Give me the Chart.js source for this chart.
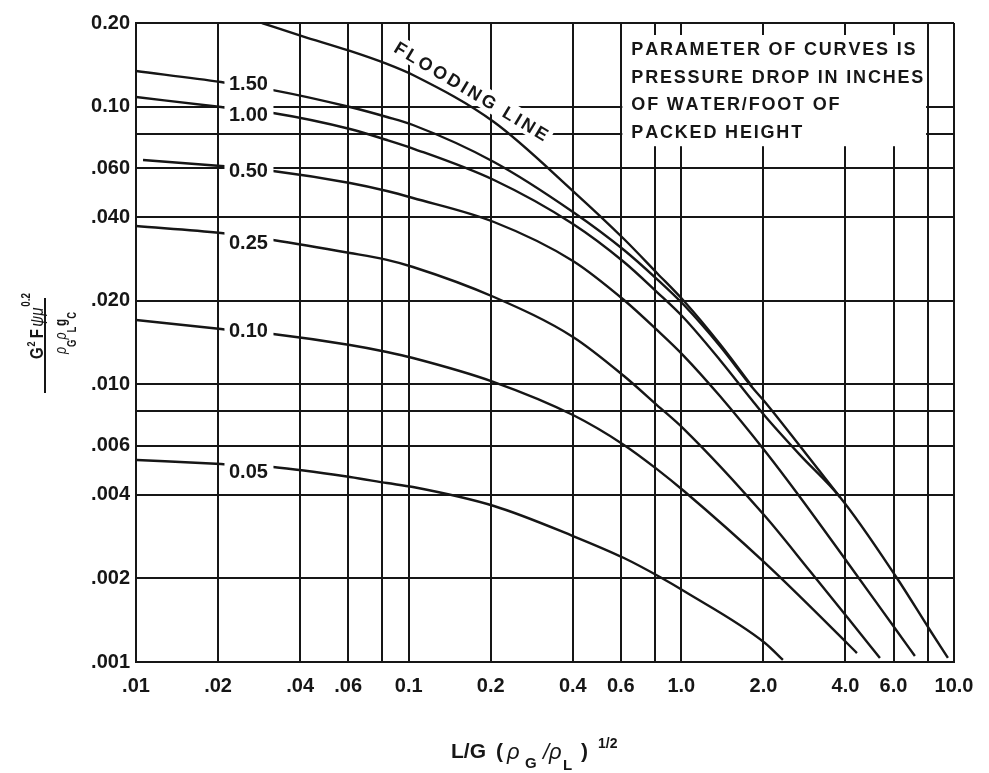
<!DOCTYPE html>
<html>
<head>
<meta charset="utf-8">
<script src="https://cdn.jsdelivr.net/npm/chart.js@4.4.1/dist/chart.umd.min.js"></script>
<style>
  html, body { margin: 0; padding: 0; background: #fff; }
  canvas { display: block; }
</style>
</head>
<body>
<canvas id="chart" width="989" height="773"></canvas>
<script>
// grid lines and tick labels of the log-log chart
var xGrid = [0.01, 0.02, 0.04, 0.06, 0.08, 0.1, 0.2, 0.4, 0.6, 0.8, 1, 2, 4, 6, 8, 10]
var xTickLabels = ['.01', '.02', '.04', '.06', '', '0.1', '0.2', '0.4', '0.6', '', '1.0', '2.0', '4.0', '6.0', '', '10.0']
var yGrid = [0.001, 0.002, 0.004, 0.006, 0.008, 0.01, 0.02, 0.04, 0.06, 0.08, 0.1, 0.2]
var yTickLabels = ['.001', '.002', '.004', '.006', '', '.010', '.020', '.040', '.060', '', '0.10', '0.20']

// flooding line
var floodX = [0.02897, 0.04062, 0.06091, 0.08324, 0.1037, 0.2055, 0.4005, 0.616, 0.8137, 1.022, 1.385, 1.815]
var floodY = [0.2, 0.1795, 0.1586, 0.1424, 0.1299, 0.0880, 0.04966, 0.03336, 0.02517, 0.01995, 0.01397, 0.00986]

// pressure drop curves (in. water / ft packing)
var p150X = [0.01, 0.0205, 0.03179, 0.06091, 0.08324, 0.1037, 0.2055, 0.4005, 0.616, 0.8137, 1.022, 1.385, 1.815, 2.026, 2.722, 3.815]
var p150Y = [0.1343, 0.1226, 0.1147, 0.09966, 0.09173, 0.08585, 0.06318, 0.04174, 0.03046, 0.02393, 0.0193, 0.01374, 0.00978, 0.00864, 0.006, 0.003928]

var p100X = [0.01, 0.0205, 0.03179, 0.06091, 0.08324, 0.1037, 0.2055, 0.4005, 0.616, 0.8137, 1.022, 1.385, 1.815, 2.026, 2.722, 3.815, 6.174, 8.157, 9.5]
var p100Y = [0.1083, 0.09966, 0.09482, 0.08304, 0.0758, 0.07064, 0.0544, 0.03778, 0.02757, 0.02149, 0.01733, 0.01224, 0.00878, 0.00769, 0.00557, 0.003928, 0.002007, 0.001304, 0.001034]

var p050X = [0.01061, 0.0205, 0.03179, 0.06091, 0.08324, 0.1037, 0.2055, 0.4005, 0.616, 0.8137, 1.022, 1.385, 2.026, 2.722, 4.082, 6.174, 7.188]
var p050Y = [0.06423, 0.0611, 0.05862, 0.05307, 0.04966, 0.04686, 0.03841, 0.0278, 0.02011, 0.01569, 0.01264, 0.00907, 0.00575, 0.003928, 0.002273, 0.001293, 0.001051]

var p025X = [0.01, 0.0205, 0.03179, 0.06091, 0.08324, 0.1037, 0.2055, 0.4005, 0.616, 0.8137, 1.022, 2.026, 2.962, 4.082, 5.35]
var p025Y = [0.03715, 0.03506, 0.03308, 0.02971, 0.02804, 0.02645, 0.02062, 0.01481, 0.01071, 0.00842, 0.0069, 0.003354, 0.002126, 0.00144, 0.001034]

var p010X = [0.01, 0.0205, 0.03179, 0.06091, 0.08324, 0.1037, 0.2055, 0.4005, 0.616, 0.8137, 1.022, 2.026, 4.082, 4.405]
var p010Y = [0.01704, 0.01581, 0.01517, 0.01385, 0.01307, 0.01244, 0.01019, 0.00775, 0.00605, 0.00495, 0.004127, 0.002273, 0.001161, 0.001077]

var p005X = [0.01008, 0.0205, 0.03179, 0.06091, 0.08324, 0.1037, 0.2055, 0.4005, 0.616, 0.8346, 1.022, 2.026, 2.358]
var p005Y = [0.005338, 0.005164, 0.005036, 0.004636, 0.00441, 0.004266, 0.003645, 0.002842, 0.002368, 0.002023, 0.001801, 0.001171, 0.001017]

// curve labels, placed on the curves just right of the .02 grid line
var curveNames = ['1.50', '1.00', '0.50', '0.25', '0.10', '0.05']
var curveLabelX = 0.02585
var curveLabelY = [0.1226, 0.09482, 0.0596, 0.03281, 0.01569, 0.004913]

var floodText = 'FLOODING LINE'
var floodLabelAt = [0.17, 0.114]
var noteLines = ['PARAMETER OF CURVES IS', 'PRESSURE DROP IN INCHES', 'OF WATER/FOOT OF', 'PACKED HEIGHT']

var ink = '#161616'
var family = '"Liberation Sans", Arial, sans-serif'

function toPoints(xs, ys) {
  return xs.map(function (v, i) { return { x: v, y: ys[i] } })
}

/** texto letra a letra com espacamento extra */
function spacedText(ctx, text, x, y, sp) {
  var cx = x
  for (var i = 0; i < text.length; i++) {
    ctx.fillText(text[i], cx, y)
    cx += ctx.measureText(text[i]).width + sp
  }
}

/** pedacos de texto (com indices) comprimidos para uma largura */
function drawPieces(ctx, pieces, x0, width) {
  var total = 0
  pieces.forEach(function (p) { ctx.font = p[1]; total += ctx.measureText(p[0]).width + (p[3] || 0) })
  ctx.save()
  ctx.translate(x0, 0)
  ctx.scale(width / total, 1)
  var x = 0
  pieces.forEach(function (p) {
    ctx.font = p[1]
    ctx.fillText(p[0], x, p[2])
    x += ctx.measureText(p[0]).width + (p[3] || 0)
  })
  ctx.restore()
}

var decor = {
  id: 'decor',
  beforeDatasetsDraw: function (chart) {
    var ctx = chart.ctx, xs = chart.scales.x, ys = chart.scales.y
    ctx.save()
    // caixa com a nota dos parametros
    var bx0 = xs.getPixelForValue(0.6) + 1.5
    var bx1 = xs.getPixelForValue(8) - 1.5
    var by0 = chart.chartArea.top + 12
    var by1 = ys.getPixelForValue(0.072)
    ctx.fillStyle = '#fff'
    ctx.fillRect(bx0, by0, bx1 - bx0, by1 - by0)
    ctx.fillStyle = ink
    ctx.font = 'bold 18px ' + family
    ctx.textAlign = 'left'
    ctx.textBaseline = 'alphabetic'
    var sp = (292 - ctx.measureText(noteLines[1]).width) / (noteLines[1].length - 1)
    noteLines.forEach(function (line, i) {
      spacedText(ctx, line, bx0 + 9, by0 + 20 + i * 27.5, sp)
    })

    // texto da linha de inundacao
    var fx = xs.getPixelForValue(floodLabelAt[0]), fy = ys.getPixelForValue(floodLabelAt[1])
    ctx.translate(fx, fy)
    ctx.rotate(0.54)
    var target = 176
    var sp2 = (target - ctx.measureText(floodText).width) / (floodText.length - 1)
    ctx.fillStyle = '#fff'
    ctx.fillRect(-target / 2 - 4, -11, target + 8, 21)
    ctx.fillStyle = ink
    spacedText(ctx, floodText, -target / 2, 6.5, sp2)
    ctx.restore()
  },
  afterDatasetsDraw: function (chart) {
    var ctx = chart.ctx, xs = chart.scales.x, ys = chart.scales.y
    ctx.save()
    ctx.font = 'bold 20px ' + family
    ctx.textAlign = 'center'
    ctx.textBaseline = 'alphabetic'
    curveNames.forEach(function (name, i) {
      var px = xs.getPixelForValue(curveLabelX), py = ys.getPixelForValue(curveLabelY[i])
      ctx.fillStyle = '#fff'
      ctx.fillRect(px - 24, py - 10, 49, 20)
      ctx.fillStyle = ink
      ctx.fillText(name, px, py + 7.5)
    })
    ctx.restore()
  },
  afterDraw: function (chart) {
    var ctx = chart.ctx
    ctx.save()
    ctx.fillStyle = ink
    ctx.textAlign = 'left'
    ctx.textBaseline = 'alphabetic'

    // titulo do eixo x: L/G (rhoG/rhoL)^1/2
    ctx.font = 'bold 21px ' + family
    ctx.fillText('L/G', 451, 758)
    ctx.fillText('(', 496, 758)
    ctx.fillText(')', 581, 758)
    ctx.font = 'italic 22px ' + family
    ctx.fillText('\u03C1', 507, 759)
    ctx.fillText('/\u03C1', 543, 759)
    ctx.font = 'bold 15px ' + family
    ctx.fillText('G', 525, 768)
    ctx.fillText('L', 563, 770)
    ctx.font = 'bold 14px ' + family
    ctx.fillText('1/2', 598, 748)

    // titulo do eixo y: fracao rodada
    ctx.translate(45, 345)
    ctx.rotate(-Math.PI / 2)
    ctx.fillRect(-48, -1, 95, 2)
    drawPieces(ctx, [
      ['G', 'bold 18px ' + family, -2, 1],
      ['2', 'bold 11px ' + family, -10, 4],
      ['F', 'bold 18px ' + family, -2, 3],
      ['\u03C8\u03BC', 'italic 18px ' + family, -2, 1],
      ['0.2', 'bold 12px ' + family, -15]
    ], -14, 66)
    drawPieces(ctx, [
      ['\u03C1', 'italic 17px ' + family, 21],
      ['G', 'bold 13px ' + family, 31],
      ['\u03C1', 'italic 17px ' + family, 21],
      ['L', 'bold 13px ' + family, 31, 1],
      ['g', 'bold 16px ' + family, 21],
      ['C', 'bold 13px ' + family, 31]
    ], -9, 42)
    ctx.restore()
  }
}

function curve(xs, ys) {
  return {
    data: toPoints(xs, ys),
    borderColor: ink,
    borderWidth: 2.4,
    pointRadius: 0,
    fill: false,
    cubicInterpolationMode: 'monotone'
  }
}

var tickFont = { family: family, size: 20, weight: 'bold' }

new Chart('chart', {
  type: 'line',
  data: {
    datasets: [
      curve(floodX, floodY),
      curve(p150X, p150Y),
      curve(p100X, p100Y),
      curve(p050X, p050Y),
      curve(p025X, p025Y),
      curve(p010X, p010Y),
      curve(p005X, p005Y)
    ]
  },
  options: {
    responsive: false,
    animation: false,
    devicePixelRatio: 1,
    layout: { padding: { top: 23, right: 35, bottom: 0, left: 0 } },
    plugins: { legend: { display: false }, tooltip: { enabled: false } },
    scales: {
      x: {
        type: 'logarithmic',
        min: 0.01,
        max: 10,
        afterBuildTicks: function (s) { s.ticks = xGrid.map(function (v) { return { value: v } }) },
        afterFit: function (s) { s.height = 111 },
        ticks: {
          autoSkip: false, maxRotation: 0, minRotation: 0, padding: 12,
          color: ink, font: tickFont,
          callback: function (v, i) { return xTickLabels[i] }
        },
        grid: { color: ink, lineWidth: 2, drawTicks: false },
        border: { color: ink, width: 2 }
      },
      y: {
        type: 'logarithmic',
        min: 0.001,
        max: 0.2,
        afterBuildTicks: function (s) { s.ticks = yGrid.map(function (v) { return { value: v } }) },
        afterFit: function (s) { s.width = 136 },
        ticks: {
          autoSkip: false, padding: 6,
          color: ink, font: tickFont,
          callback: function (v, i) { return yTickLabels[i] }
        },
        grid: { color: ink, lineWidth: 2, drawTicks: false },
        border: { color: ink, width: 2 }
      }
    }
  },
  plugins: [decor]
})
</script>
</body>
</html>
